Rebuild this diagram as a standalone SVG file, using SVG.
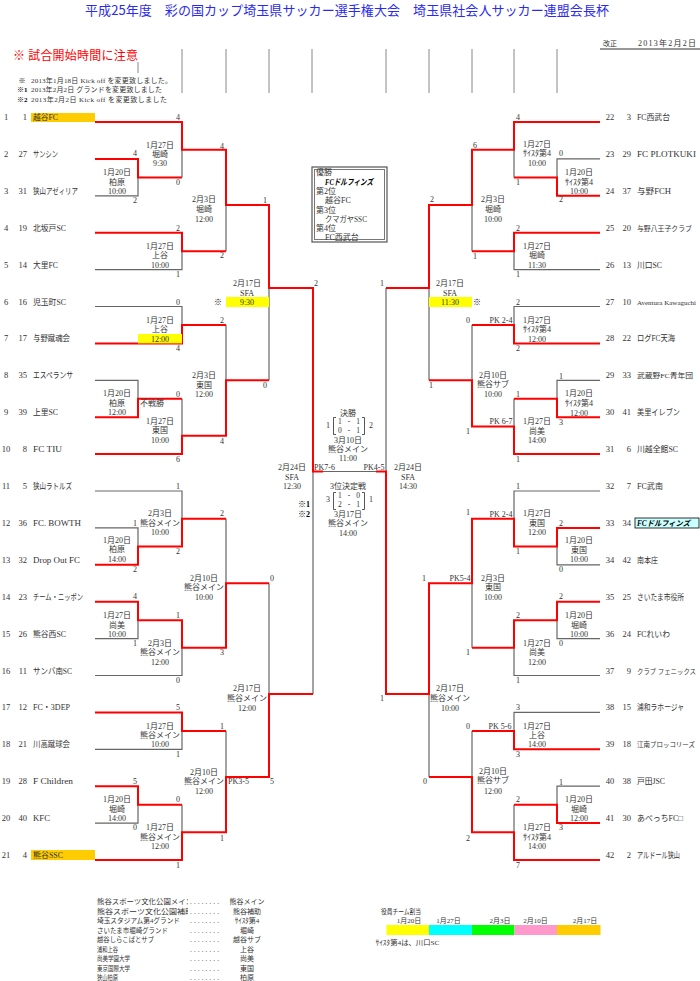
<svg xmlns="http://www.w3.org/2000/svg" width="700" height="981" viewBox="0 0 700 981">
<style>
text{font-family:"Liberation Serif","Noto Sans CJK JP",serif;fill:#333}
.nm{font-size:8.5px}
.nl{font-size:7px}
.no{font-size:8.5px;text-anchor:middle}
.sd{font-size:8.5px;text-anchor:end}
.lb{font-size:8px;text-anchor:middle}
.sc{font-size:8px;text-anchor:middle}
.fs{font-size:7.5px;text-anchor:middle}
.pk{font-size:8px}
.bk{font-weight:bold;font-size:8px;text-anchor:middle;fill:#000}
.lg{font-size:7px}
.r{stroke:#ff0000;stroke-width:2;fill:none}
.g{stroke:#666;stroke-width:1.2;fill:none}
.hd{stroke:#888;stroke-width:1}
.br{stroke:#444;stroke-width:0.9;fill:none}
</style>
<defs><clipPath id="lgclip"><rect x="0" y="890" width="188" height="30"/></clipPath></defs>
<rect width="700" height="981" fill="#fff"/>
<g id="header">
<text x="347" y="15" font-size="13" text-anchor="middle" textLength="524" style="font-family:'Noto Sans CJK JP',sans-serif;fill:#2b2bf0">平成25年度　彩の国カップ埼玉県サッカー選手権大会　埼玉県社会人サッカー連盟会長杯</text>
<text x="603" y="46" font-size="7">改正</text>
<text x="638" y="46" font-size="8" textLength="58">2013年2月2日</text>
<line x1="600" y1="49" x2="700" y2="49" stroke="#333" stroke-width="1"/>
<text x="13" y="60" font-size="12" textLength="125" style="fill:#ff0000;font-family:'Noto Sans CJK JP',sans-serif">※ 試合開始時間に注意</text>
<line class="hd" x1="138" y1="62" x2="138" y2="73"/>
<text x="22" y="83" font-size="7" text-anchor="middle" font-weight="bold" style="fill:#000">※</text>
<text x="31" y="83" class="lg" textLength="141">2013年1月18日 Kick off を変更致しました。</text>
<text x="17" y="92" font-size="7" font-weight="bold" style="fill:#000">※1</text>
<text x="31" y="92" class="lg" textLength="131">2013年2月2日 グランドを変更致しました</text>
<text x="17" y="102" font-size="7" font-weight="bold" style="fill:#000">※2</text>
<text x="31" y="102" class="lg" textLength="136">2013年2月2日 Kick off を変更致しました</text>
<path class="hd" d="M182 49V93M226 49V93M269 49V93M312 49V93M386 49V93M429 49V93M472 49V93M514 49V93M557 49V93"/>
</g>
<g id="connectors">
<path class="g" d="M95 195.8H138V177.4M182 149.7V177.4M226 205V251.2M95 269.6H182V251.2M95 306.5H182V325M95 380.3H138V398.8M182 398.8V435.7M226 325V380.3M269 288.1V380.3M95 491H182V518.7M95 527.9H138V546.4M95 638.6H138V620.2M95 675.5H182V647.8M226 518.7V583.3M95 749.3H182V730.9M95 823.1H138V804.7M182 804.7V832.3M226 730.9V777M269 583.3V694M313 471.5V694M313 471.5H386"/>
<path class="g" d="M600 158.9H557V177.4M514 149.7V177.4M600 269.6H514V251.2M472 205V251.2M600 306.5H514V325M600 380.3H557V398.8M514 398.8V426.4M472 325V380.3M429 288.1V380.3M386 288.1V471.5M600 491H514V518.7M600 564.8H557V546.4M600 638.6H557V620.2M600 675.5H514V647.8M472 583.3V647.8M600 712.4H514V730.9M600 786.2H557V804.7M514 804.7V832.3M472 730.9V777M429 694V777"/>
<path class="r" d="M95 122H182V149.7H226V205H269V288.1H313V471.5H323M95 158.9H138V177.4H182M95 232.7H182V251.2H226M95 343.4H182V325H226M95 417.2H138V398.8H182M95 454.1H182V435.7H226V380.3H269M95 564.8H138V546.4H182V518.7H226M95 601.7H138V620.2H182V647.8H226V583.3H269M95 712.4H182V730.9H226M95 786.2H138V804.7H182M95 860H182V832.3H226V777H269V694H313"/>
<path class="r" d="M600 122H514V149.7H472V205H429V288.1H386M600 195.8H557V177.4H514M600 232.7H514V251.2H472M600 343.4H514V325H472M600 417.2H557V398.8H514M600 454.1H514V426.4H472V380.3H429M600 527.9H557V546.4H514V518.7H472V583.3H429V694H386V471.5H376M600 601.7H557V620.2H514V647.8H472M600 749.3H514V730.9H472M600 823.1H557V804.7H514M600 860H514V832.3H472V777H429"/>
</g>
<g id="teams-left">
<g id="t1"><rect x="31" y="113" width="64" height="9" fill="#ffcc00"/><text class="no" x="6" y="120">1</text><text class="sd" x="27" y="120">1</text><text class="nm" x="33" y="120" textLength="25" lengthAdjust="spacingAndGlyphs">越谷FC</text></g>
<g id="t2"><text class="no" x="6" y="156.9">2</text><text class="sd" x="27" y="156.9">27</text><text class="nm" x="33" y="156.9" textLength="25" lengthAdjust="spacingAndGlyphs">サンシン</text></g>
<g id="t3"><text class="no" x="6" y="193.8">3</text><text class="sd" x="27" y="193.8">31</text><text class="nm" x="33" y="193.8" textLength="45" lengthAdjust="spacingAndGlyphs">狭山アゼィリア</text></g>
<g id="t4"><text class="no" x="6" y="230.7">4</text><text class="sd" x="27" y="230.7">19</text><text class="nm" x="33" y="230.7" textLength="33" lengthAdjust="spacingAndGlyphs">北坂戸SC</text></g>
<g id="t5"><text class="no" x="6" y="267.6">5</text><text class="sd" x="27" y="267.6">14</text><text class="nm" x="33" y="267.6" textLength="25" lengthAdjust="spacingAndGlyphs">大里FC</text></g>
<g id="t6"><text class="no" x="6" y="304.5">6</text><text class="sd" x="27" y="304.5">16</text><text class="nm" x="33" y="304.5" textLength="33" lengthAdjust="spacingAndGlyphs">児玉町SC</text></g>
<g id="t7"><text class="no" x="6" y="341.4">7</text><text class="sd" x="27" y="341.4">17</text><text class="nm" x="33" y="341.4" textLength="37" lengthAdjust="spacingAndGlyphs">与野蹴魂会</text></g>
<g id="t8"><text class="no" x="6" y="378.3">8</text><text class="sd" x="27" y="378.3">35</text><text class="nm" x="33" y="378.3" textLength="40" lengthAdjust="spacingAndGlyphs">エスペランサ</text></g>
<g id="t9"><text class="no" x="6" y="415.2">9</text><text class="sd" x="27" y="415.2">39</text><text class="nm" x="33" y="415.2" textLength="25" lengthAdjust="spacingAndGlyphs">上里SC</text></g>
<g id="t10"><text class="no" x="6" y="452.1">10</text><text class="sd" x="27" y="452.1">8</text><text class="nm" x="33" y="452.1" textLength="29" lengthAdjust="spacingAndGlyphs">FC TIU</text></g>
<g id="t11"><text class="no" x="6" y="489">11</text><text class="sd" x="27" y="489">5</text><text class="nm" x="33" y="489" textLength="39" lengthAdjust="spacingAndGlyphs">狭山ラトルズ</text></g>
<g id="t12"><text class="no" x="6" y="525.9">12</text><text class="sd" x="27" y="525.9">36</text><text class="nm" x="33" y="525.9" textLength="48" lengthAdjust="spacingAndGlyphs">FC. BOWTH</text></g>
<g id="t13"><text class="no" x="6" y="562.8">13</text><text class="sd" x="27" y="562.8">32</text><text class="nm" x="33" y="562.8" textLength="47" lengthAdjust="spacingAndGlyphs">Drop Out FC</text></g>
<g id="t14"><text class="no" x="6" y="599.7">14</text><text class="sd" x="27" y="599.7">23</text><text class="nm" x="33" y="599.7" textLength="50" lengthAdjust="spacingAndGlyphs">チーム・ニッポン</text></g>
<g id="t15"><text class="no" x="6" y="636.6">15</text><text class="sd" x="27" y="636.6">26</text><text class="nm" x="33" y="636.6" textLength="33" lengthAdjust="spacingAndGlyphs">熊谷西SC</text></g>
<g id="t16"><text class="no" x="6" y="673.5">16</text><text class="sd" x="27" y="673.5">11</text><text class="nm" x="33" y="673.5" textLength="39" lengthAdjust="spacingAndGlyphs">サンバ南SC</text></g>
<g id="t17"><text class="no" x="6" y="710.4">17</text><text class="sd" x="27" y="710.4">12</text><text class="nm" x="33" y="710.4" textLength="37" lengthAdjust="spacingAndGlyphs">FC・3DEP</text></g>
<g id="t18"><text class="no" x="6" y="747.3">18</text><text class="sd" x="27" y="747.3">21</text><text class="nm" x="33" y="747.3" textLength="37" lengthAdjust="spacingAndGlyphs">川高蹴球会</text></g>
<g id="t19"><text class="no" x="6" y="784.2">19</text><text class="sd" x="27" y="784.2">28</text><text class="nm" x="33" y="784.2" textLength="40" lengthAdjust="spacingAndGlyphs">F Children</text></g>
<g id="t20"><text class="no" x="6" y="821.1">20</text><text class="sd" x="27" y="821.1">40</text><text class="nm" x="33" y="821.1" textLength="17" lengthAdjust="spacingAndGlyphs">KFC</text></g>
<g id="t21"><rect x="31" y="850" width="64" height="10" fill="#ffcc00"/><text class="no" x="6" y="858">21</text><text class="sd" x="27" y="858">4</text><text class="nm" x="33" y="858" textLength="30" lengthAdjust="spacingAndGlyphs">熊谷SSC</text></g>
</g>
<g id="teams-right">
<g id="t22"><text class="no" x="610" y="120">22</text><text class="sd" x="631" y="120">3</text><text class="nm" x="637" y="120" textLength="33" lengthAdjust="spacingAndGlyphs">FC西武台</text></g>
<g id="t23"><text class="no" x="610" y="156.9">23</text><text class="sd" x="631" y="156.9">29</text><text class="nm" x="637" y="156.9" textLength="59" lengthAdjust="spacingAndGlyphs">FC PLOTKUKI</text></g>
<g id="t24"><text class="no" x="610" y="193.8">24</text><text class="sd" x="631" y="193.8">37</text><text class="nm" x="637" y="193.8" textLength="34" lengthAdjust="spacingAndGlyphs">与野FCH</text></g>
<g id="t25"><text class="no" x="610" y="230.7">25</text><text class="sd" x="631" y="230.7">20</text><text class="nl" x="637" y="230.7" textLength="55" lengthAdjust="spacingAndGlyphs">与野八王子クラブ</text></g>
<g id="t26"><text class="no" x="610" y="267.6">26</text><text class="sd" x="631" y="267.6">13</text><text class="nm" x="637" y="267.6" textLength="25" lengthAdjust="spacingAndGlyphs">川口SC</text></g>
<g id="t27"><text class="no" x="610" y="304.5">27</text><text class="sd" x="631" y="304.5">10</text><text class="nl" x="637" y="304.5" textLength="59" lengthAdjust="spacingAndGlyphs">Aventura Kawaguchi</text></g>
<g id="t28"><text class="no" x="610" y="341.4">28</text><text class="sd" x="631" y="341.4">22</text><text class="nm" x="637" y="341.4" textLength="38" lengthAdjust="spacingAndGlyphs">ログFC天海</text></g>
<g id="t29"><text class="no" x="610" y="378.3">29</text><text class="sd" x="631" y="378.3">33</text><text class="nl" x="637" y="378.3" textLength="56" lengthAdjust="spacingAndGlyphs">武蔵野FC青年団</text></g>
<g id="t30"><text class="no" x="610" y="415.2">30</text><text class="sd" x="631" y="415.2">41</text><text class="nm" x="637" y="415.2" textLength="43" lengthAdjust="spacingAndGlyphs">美里イレブン</text></g>
<g id="t31"><text class="no" x="610" y="452.1">31</text><text class="sd" x="631" y="452.1">6</text><text class="nm" x="637" y="452.1" textLength="41" lengthAdjust="spacingAndGlyphs">川越全館SC</text></g>
<g id="t32"><text class="no" x="610" y="489">32</text><text class="sd" x="631" y="489">7</text><text class="nm" x="637" y="489" textLength="26" lengthAdjust="spacingAndGlyphs">FC武南</text></g>
<g id="t33"><rect x="635" y="518" width="64" height="10" fill="#ccffff" stroke="#000" stroke-width="0.8"/><text class="no" x="610" y="525.9">33</text><text class="sd" x="631" y="525.9">34</text><text class="nl" x="637" y="525.9" textLength="53" lengthAdjust="spacingAndGlyphs" font-weight="bold" font-style="italic" style="fill:#000;font-size:7.5px">FCドルフィンズ</text></g>
<g id="t34"><text class="no" x="610" y="562.8">34</text><text class="sd" x="631" y="562.8">42</text><text class="nm" x="637" y="562.8" textLength="21" lengthAdjust="spacingAndGlyphs">南本庄</text></g>
<g id="t35"><text class="no" x="610" y="599.7">35</text><text class="sd" x="631" y="599.7">25</text><text class="nm" x="637" y="599.7" textLength="47" lengthAdjust="spacingAndGlyphs">さいたま市役所</text></g>
<g id="t36"><text class="no" x="610" y="636.6">36</text><text class="sd" x="631" y="636.6">24</text><text class="nm" x="637" y="636.6" textLength="33" lengthAdjust="spacingAndGlyphs">FCれいわ</text></g>
<g id="t37"><text class="no" x="610" y="673.5">37</text><text class="sd" x="631" y="673.5">9</text><text class="nl" x="637" y="673.5" textLength="59" lengthAdjust="spacingAndGlyphs" style="font-size:6.5px">クラブ フェニックス</text></g>
<g id="t38"><text class="no" x="610" y="710.4">38</text><text class="sd" x="631" y="710.4">15</text><text class="nm" x="637" y="710.4" textLength="47" lengthAdjust="spacingAndGlyphs">浦和ラホージャ</text></g>
<g id="t39"><text class="no" x="610" y="747.3">39</text><text class="sd" x="631" y="747.3">18</text><text class="nl" x="637" y="747.3" textLength="58" lengthAdjust="spacingAndGlyphs" style="font-size:6.5px">江南ブロッコリーズ</text></g>
<g id="t40"><text class="no" x="610" y="784.2">40</text><text class="sd" x="631" y="784.2">38</text><text class="nm" x="637" y="784.2" textLength="28" lengthAdjust="spacingAndGlyphs">戸田JSC</text></g>
<g id="t41"><text class="no" x="610" y="821.1">41</text><text class="sd" x="631" y="821.1">30</text><text class="nm" x="637" y="821.1" textLength="46" lengthAdjust="spacingAndGlyphs">あべっちFC□</text></g>
<g id="t42"><text class="no" x="610" y="858">42</text><text class="sd" x="631" y="858">2</text><text class="nm" x="637" y="858" textLength="43" lengthAdjust="spacingAndGlyphs">アルドール狭山</text></g>
</g>
<g id="matches-left">
<g id="m1"><text class="lb" x="117" y="175">1月20日</text><text class="lb" x="117" y="185">柏原</text><text class="lb" x="117" y="194">10:00</text><text class="sc" x="135" y="156">4</text><text class="sc" x="135" y="203">2</text></g>
<g id="m2"><text class="lb" x="160" y="148">1月27日</text><text class="lb" x="160" y="157">堀崎</text><text class="lb" x="160" y="166">9:30</text><text class="sc" x="178" y="120">4</text><text class="sc" x="178" y="185">0</text></g>
<g id="m3"><text class="lb" x="160" y="249">1月27日</text><text class="lb" x="160" y="258">上谷</text><text class="lb" x="160" y="268">10:00</text><text class="sc" x="178" y="231">2</text><text class="sc" x="178" y="277">1</text></g>
<g id="m4"><text class="lb" x="204" y="202">2月3日</text><text class="lb" x="204" y="212">堀崎</text><text class="lb" x="204" y="222">12:00</text><text class="sc" x="222" y="149">4</text><text class="sc" x="222" y="258">2</text></g>
<g id="m5"><rect x="138" y="334" width="44" height="9.4" fill="#ffff00"/><text class="lb" x="160" y="323">1月27日</text><text class="lb" x="160" y="332">上谷</text><text class="lb" x="160" y="342">12:00</text><text class="sc" x="178" y="305">0</text><text class="sc" x="178" y="351">4</text></g>
<g id="m6"><text class="lb" x="117" y="396">1月20日</text><text class="lb" x="117" y="406">柏原</text><text class="lb" x="117" y="415">12:00</text><text class="lb" x="152" y="406">不戦勝</text></g>
<g id="m7"><text class="lb" x="160" y="424">1月27日</text><text class="lb" x="160" y="433">東国</text><text class="lb" x="160" y="443">10:00</text><text class="sc" x="178" y="397">0</text><text class="sc" x="178" y="462">6</text></g>
<g id="m8"><text class="lb" x="204" y="378">2月3日</text><text class="lb" x="204" y="388">東国</text><text class="lb" x="204" y="397">12:00</text><text class="sc" x="222" y="323">2</text><text class="sc" x="222" y="444">4</text></g>
<g id="m9"><rect x="226" y="297" width="43" height="10" fill="#ffff00"/><text class="lb" x="247" y="286">2月17日</text><text class="lb" x="247" y="296">SFA</text><text class="lb" x="247" y="305">9:30</text><text class="bk" x="218" y="305">※</text><text class="sc" x="265" y="203">1</text><text class="sc" x="265" y="388">0</text></g>
<g id="m10"><text class="lb" x="117" y="543">1月20日</text><text class="lb" x="117" y="552">柏原</text><text class="lb" x="117" y="562">14:00</text><text class="sc" x="135" y="526">1</text><text class="sc" x="135" y="572">2</text></g>
<g id="m11"><text class="lb" x="160" y="516">2月3日</text><text class="lb" x="160" y="526">熊谷メイン</text><text class="lb" x="160" y="535">10:00</text><text class="sc" x="178" y="489">1</text><text class="sc" x="178" y="554">2</text></g>
<g id="m12"><text class="lb" x="117" y="618">1月27日</text><text class="lb" x="117" y="628">尚美</text><text class="lb" x="117" y="637">10:00</text><text class="sc" x="135" y="599">4</text><text class="sc" x="135" y="646">1</text></g>
<g id="m13"><text class="lb" x="160" y="646">2月3日</text><text class="lb" x="160" y="655">熊谷メイン</text><text class="lb" x="160" y="665">12:00</text><text class="sc" x="178" y="618">1</text><text class="sc" x="178" y="683">0</text></g>
<g id="m14"><text class="lb" x="204" y="581">2月10日</text><text class="lb" x="204" y="590">熊谷メイン</text><text class="lb" x="204" y="600">10:00</text><text class="sc" x="222" y="516">2</text><text class="sc" x="222" y="655">3</text></g>
<g id="m15"><text class="lb" x="160" y="729">1月27日</text><text class="lb" x="160" y="738">熊谷メイン</text><text class="lb" x="160" y="747">10:00</text><text class="sc" x="178" y="710">5</text><text class="sc" x="178" y="757">1</text></g>
<g id="m16"><text class="lb" x="117" y="802">1月20日</text><text class="lb" x="117" y="812">堀崎</text><text class="lb" x="117" y="821">14:00</text><text class="sc" x="135" y="784">5</text><text class="sc" x="135" y="830">0</text></g>
<g id="m17"><text class="lb" x="160" y="830">1月27日</text><text class="lb" x="160" y="840">熊谷メイン</text><text class="lb" x="160" y="849">12:00</text><text class="sc" x="178" y="802">0</text><text class="sc" x="178" y="868">1</text></g>
<g id="m18"><text class="lb" x="204" y="775">2月10日</text><text class="lb" x="204" y="784">熊谷メイン</text><text class="lb" x="204" y="794">12:00</text><text class="pk" x="228" y="784">PK3-5</text><text class="sc" x="222" y="729">1</text><text class="sc" x="222" y="841">1</text></g>
<g id="m19"><text class="lb" x="247" y="691">2月17日</text><text class="lb" x="247" y="701">熊谷メイン</text><text class="lb" x="247" y="711">12:00</text><text class="sc" x="272" y="581">0</text><text class="sc" x="272" y="784">5</text></g>
<g id="sf-left"><text class="lb" x="292" y="470">2月24日</text><text class="lb" x="292" y="480">SFA</text><text class="lb" x="292" y="489">12:30</text><text class="sc" x="316" y="286">2</text><text class="pk" x="314" y="470">PK7-6</text><text class="bk" x="304" y="507">※1</text><text class="bk" x="304" y="517">※2</text></g>
</g>
<g id="matches-right">
<g id="r1"><text class="lb" x="579" y="175">1月20日</text><text class="lb" x="579" y="185">ｻｲｽﾀ第4</text><text class="lb" x="579" y="194">10:00</text><text class="sc" x="561" y="156">0</text><text class="sc" x="561" y="202">2</text></g>
<g id="r2"><text class="lb" x="537" y="147">1月27日</text><text class="lb" x="537" y="156">ｻｲｽﾀ第4</text><text class="lb" x="537" y="166">10:00</text><text class="sc" x="518" y="120">4</text><text class="sc" x="518" y="185">1</text></g>
<g id="r3"><text class="lb" x="537" y="249">1月27日</text><text class="lb" x="537" y="258">堀崎</text><text class="lb" x="537" y="268">11:30</text><text class="sc" x="518" y="231">2</text><text class="sc" x="518" y="277">1</text></g>
<g id="r4"><text class="lb" x="493" y="202">2月3日</text><text class="lb" x="493" y="212">堀崎</text><text class="lb" x="493" y="222">10:00</text><text class="sc" x="475" y="148">6</text><text class="sc" x="475" y="259">1</text></g>
<g id="r5"><text class="lb" x="537" y="323">1月27日</text><text class="lb" x="537" y="332">ｻｲｽﾀ第4</text><text class="lb" x="537" y="342">12:00</text><text class="pk" x="501" y="323" text-anchor="middle">PK 2-4</text><text class="sc" x="518" y="305">2</text><text class="sc" x="518" y="351">2</text></g>
<g id="r6"><text class="lb" x="579" y="396">1月20日</text><text class="lb" x="579" y="406">ｻｲｽﾀ第4</text><text class="lb" x="579" y="416">12:00</text><text class="sc" x="561" y="379">1</text><text class="sc" x="561" y="425">3</text></g>
<g id="r7"><text class="lb" x="537" y="424">1月27日</text><text class="lb" x="537" y="434">尚美</text><text class="lb" x="537" y="443">14:00</text><text class="pk" x="501" y="424" text-anchor="middle">PK 6-7</text><text class="sc" x="518" y="397">1</text><text class="sc" x="518" y="462">1</text></g>
<g id="r8"><text class="lb" x="493" y="378">2月10日</text><text class="lb" x="493" y="387">熊谷サブ</text><text class="lb" x="493" y="397">10:00</text><text class="sc" x="468" y="323">0</text><text class="sc" x="468" y="434">1</text></g>
<g id="r9"><rect x="429" y="297" width="43" height="10" fill="#ffff00"/><text class="lb" x="450" y="286">2月17日</text><text class="lb" x="450" y="296">SFA</text><text class="lb" x="450" y="305">11:30</text><text class="bk" x="477" y="305">※</text><text class="sc" x="432" y="202">2</text><text class="sc" x="431" y="388">1</text></g>
<g id="r10"><text class="lb" x="579" y="543">1月20日</text><text class="lb" x="579" y="553">東国</text><text class="lb" x="579" y="562">10:00</text><text class="sc" x="561" y="526">2</text><text class="sc" x="561" y="572">0</text></g>
<g id="r11"><text class="lb" x="537" y="516">1月27日</text><text class="lb" x="537" y="526">東国</text><text class="lb" x="537" y="535">12:00</text><text class="pk" x="501" y="517" text-anchor="middle">PK 2-4</text><text class="sc" x="518" y="489">1</text><text class="sc" x="518" y="554">1</text></g>
<g id="r12"><text class="lb" x="579" y="618">1月20日</text><text class="lb" x="579" y="628">堀崎</text><text class="lb" x="579" y="637">10:00</text><text class="sc" x="561" y="599">2</text><text class="sc" x="561" y="646">0</text></g>
<g id="r13"><text class="lb" x="537" y="646">1月27日</text><text class="lb" x="537" y="655">尚美</text><text class="lb" x="537" y="665">12:00</text><text class="sc" x="518" y="618">2</text><text class="sc" x="518" y="683">1</text></g>
<g id="r14"><text class="lb" x="493" y="581">2月3日</text><text class="lb" x="493" y="590">東国</text><text class="lb" x="493" y="600">10:00</text><text class="pk" x="460" y="581" text-anchor="middle">PK5-4</text><text class="sc" x="468" y="515">1</text><text class="sc" x="468" y="655">1</text></g>
<g id="r15"><text class="lb" x="537" y="729">1月27日</text><text class="lb" x="537" y="738">上谷</text><text class="lb" x="537" y="747">14:00</text><text class="pk" x="500" y="729" text-anchor="middle">PK 5-6</text><text class="sc" x="518" y="710">3</text><text class="sc" x="518" y="757">3</text></g>
<g id="r16"><text class="lb" x="579" y="802">1月20日</text><text class="lb" x="579" y="812">堀崎</text><text class="lb" x="579" y="821">12:00</text><text class="sc" x="561" y="785">1</text><text class="sc" x="561" y="830">3</text></g>
<g id="r17"><text class="lb" x="537" y="830">1月27日</text><text class="lb" x="537" y="840">ｻｲｽﾀ第4</text><text class="lb" x="537" y="849">14:00</text><text class="sc" x="518" y="802">2</text><text class="sc" x="518" y="868">7</text></g>
<g id="r18"><text class="lb" x="493" y="774">2月10日</text><text class="lb" x="493" y="783">熊谷サブ</text><text class="lb" x="493" y="794">12:00</text><text class="sc" x="468" y="729">0</text><text class="sc" x="468" y="841">2</text></g>
<g id="r19"><text class="lb" x="450" y="691">2月17日</text><text class="lb" x="450" y="701">熊谷メイン</text><text class="lb" x="450" y="711">10:00</text><text class="sc" x="424" y="581">1</text><text class="sc" x="425" y="784">0</text></g>
<g id="sf-right"><text class="lb" x="408" y="470">2月24日</text><text class="lb" x="408" y="480">SFA</text><text class="lb" x="408" y="489">14:30</text><text class="sc" x="382" y="286">1</text><text class="sc" x="382" y="701">1</text><text class="pk" x="374" y="470" text-anchor="middle">PK4-5</text></g>
</g>
<g id="final">
<text class="lb" x="348" y="416">決勝</text>
<text class="sc" x="328" y="428">1</text>
<path class="br" d="M336 417.5H333.5V434.5H336M362 417.5H364.5V434.5H362"/>
<text class="fs" x="349" y="424" textLength="22">1 - 1</text>
<text class="fs" x="349" y="433" textLength="22">0 - 1</text>
<text class="sc" x="371" y="428">2</text>
<text class="lb" x="348" y="443">3月10日</text>
<text class="lb" x="348" y="452">熊谷メイン</text>
<text class="lb" x="348" y="461">11:00</text>
</g>
<g id="third">
<text class="lb" x="348" y="489">3位決定戦</text>
<text class="sc" x="328" y="502">3</text>
<path class="br" d="M336 492.5H333.5V509.5H336M362 492.5H364.5V509.5H362"/>
<text class="fs" x="349" y="498" textLength="22">1 - 0</text>
<text class="fs" x="349" y="507" textLength="22">2 - 1</text>
<text class="sc" x="371" y="502">1</text>
<text class="lb" x="348" y="516.5">3月17日</text>
<text class="lb" x="348" y="526">熊谷メイン</text>
<text class="lb" x="348" y="536">14:00</text>
</g>
<g id="result-box">
<rect x="312" y="167" width="75" height="75" fill="#fff" stroke="#555" stroke-width="1.2"/>
<rect x="314.5" y="169.5" width="70" height="70" fill="none" stroke="#777" stroke-width="1"/>
<text x="316" y="175" font-size="8">優勝</text>
<text x="349" y="185" font-size="8.5" text-anchor="middle" font-weight="bold" font-style="italic" textLength="48" lengthAdjust="spacingAndGlyphs" style="fill:#000">FCドルフィンズ</text>
<text x="316" y="194" font-size="8">第2位</text>
<text x="325" y="203" font-size="8">越谷FC</text>
<text x="316" y="213" font-size="8">第3位</text>
<text x="325" y="222" font-size="8" textLength="42" lengthAdjust="spacingAndGlyphs">クマガヤSSC</text>
<text x="316" y="231" font-size="8">第4位</text>
<text x="325" y="240" font-size="8">FC西武台</text>
</g>
<g id="legend-grounds">
<text x="97" y="903.5" class="lg" clip-path="url(#lgclip)" textLength="96" lengthAdjust="spacingAndGlyphs">熊谷スポーツ文化公園メイン</text>
<text x="97" y="913.5" class="lg" clip-path="url(#lgclip)" textLength="96" lengthAdjust="spacingAndGlyphs">熊谷スポーツ文化公園補助</text>
<text x="97" y="923" class="lg" textLength="83" lengthAdjust="spacingAndGlyphs">埼玉スタジアム第4グランド</text>
<text x="97" y="933" class="lg" textLength="71" lengthAdjust="spacingAndGlyphs">さいたま市堀崎グランド</text>
<text x="97" y="941.5" class="lg" textLength="57" lengthAdjust="spacingAndGlyphs">越谷しらこばとサブ</text>
<text x="97" y="951.5" class="lg" textLength="21" lengthAdjust="spacingAndGlyphs">浦和上谷</text>
<text x="97" y="961" class="lg" textLength="33" lengthAdjust="spacingAndGlyphs">尚美学園大学</text>
<text x="97" y="970.5" class="lg" textLength="33" lengthAdjust="spacingAndGlyphs">東京国際大学</text>
<text x="97" y="980" class="lg" textLength="21" lengthAdjust="spacingAndGlyphs">狭山柏原</text>
<text x="190" y="903.5" class="lg" textLength="29">........</text>
<text x="190" y="913.5" class="lg" textLength="29">........</text>
<text x="190" y="923" class="lg" textLength="29">........</text>
<text x="190" y="933" class="lg" textLength="29">........</text>
<text x="190" y="941.5" class="lg" textLength="29">........</text>
<text x="190" y="951.5" class="lg" textLength="29">........</text>
<text x="190" y="961" class="lg" textLength="29">........</text>
<text x="190" y="970.5" class="lg" textLength="29">........</text>
<text x="190" y="980" class="lg" textLength="29">........</text>
<text x="247" y="903.5" class="lg" text-anchor="middle">熊谷メイン</text>
<text x="247" y="913.5" class="lg" text-anchor="middle">熊谷補助</text>
<text x="247" y="923" class="lg" text-anchor="middle">ｻｲｽﾀ第4</text>
<text x="247" y="933" class="lg" text-anchor="middle">堀崎</text>
<text x="247" y="941.5" class="lg" text-anchor="middle">越谷サブ</text>
<text x="247" y="951.5" class="lg" text-anchor="middle">上谷</text>
<text x="247" y="961" class="lg" text-anchor="middle">尚美</text>
<text x="247" y="970.5" class="lg" text-anchor="middle">東国</text>
<text x="247" y="980" class="lg" text-anchor="middle">柏原</text>
</g>
<g id="legend-officials">
<text x="381" y="913.5" class="lg" textLength="40" lengthAdjust="spacingAndGlyphs">役員チーム割当</text>
<text x="409" y="923" class="lg" text-anchor="middle">1月20日</text>
<text x="448.5" y="923" class="lg" text-anchor="middle">1月27日</text>
<text x="500" y="923" class="lg" text-anchor="middle">2月3日</text>
<text x="535.5" y="923" class="lg" text-anchor="middle">2月10日</text>
<text x="585" y="923" class="lg" text-anchor="middle">2月17日</text>
<rect x="386.5" y="925" width="42.5" height="10" fill="#ffff00"/>
<rect x="429" y="925" width="43" height="10" fill="#00ffff"/>
<rect x="472" y="925" width="42.5" height="10" fill="#00ff00"/>
<rect x="514.5" y="925" width="42.5" height="10" fill="#ff99cc"/>
<rect x="557" y="925" width="43.5" height="10" fill="#ffcc00"/>
<text x="375.5" y="945" class="lg" textLength="64" lengthAdjust="spacingAndGlyphs">ｻｲｽﾀ第4は、川口SC</text>
</g>
</svg>
